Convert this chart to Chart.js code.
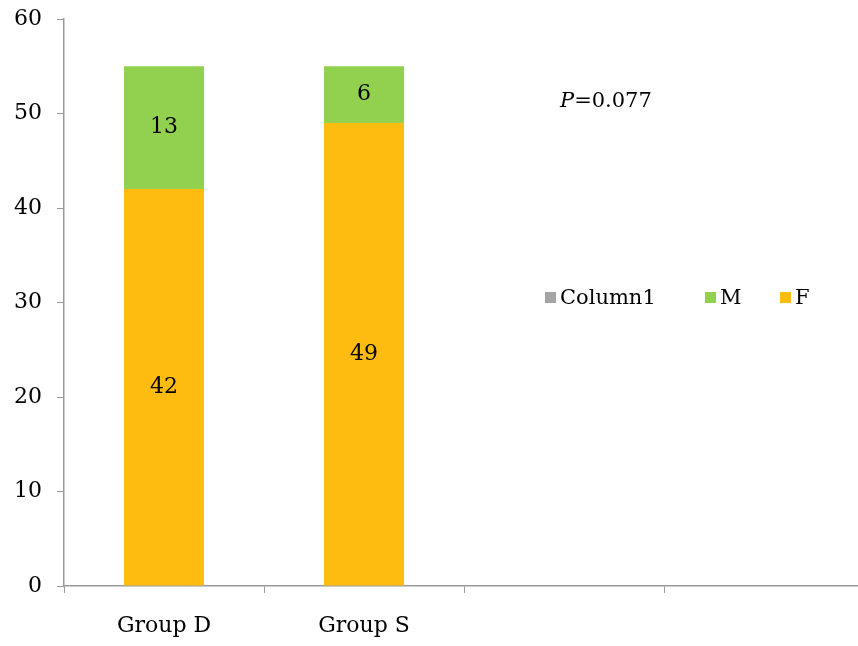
<!DOCTYPE html>
<html>
<head>
<meta charset="utf-8">
<script src="https://cdn.jsdelivr.net/npm/chart.js@4/dist/chart.umd.min.js"></script>
<style>
  html, body { margin: 0; padding: 0; background: #fff; overflow: hidden; }
  #wrap { width: 870px; height: 646px; }
</style>
</head>
<body>
<div id="wrap"><canvas id="c" width="870" height="646"></canvas></div>
<script>
const categories = ["Group D", "Group S", "", ""];
const femaleValues = [42, 49, null, null];
const maleValues = [13, 6, null, null];
const column1Values = [null, null, null, null];
const yTicks = [0, 10, 20, 30, 40, 50, 60];
const pValueText = "=0.077";

const FONT = "'DejaVu Serif', 'Liberation Serif', serif";
const AXIS = "#9a9a9a";

const valueLabels = {
  id: 'valueLabels',
  afterDatasetsDraw(chart) {
    const ctx = chart.ctx;
    ctx.save();
    ctx.font = "22px " + FONT;
    ctx.fillStyle = "#000";
    ctx.textAlign = "center";
    ctx.textBaseline = "middle";
    chart.data.datasets.forEach((ds, di) => {
      const meta = chart.getDatasetMeta(di);
      meta.data.forEach((el, i) => {
        const v = ds.data[i];
        if (v == null) return;
        const { x, y, base } = el.getProps(['x', 'y', 'base'], true);
        ctx.fillText(String(v), x, (y + base) / 2);
      });
    });
    ctx.restore();
  }
};

const legendAndNote = {
  id: 'legendAndNote',
  afterDraw(chart) {
    const ctx = chart.ctx;
    const a = chart.chartArea;
    ctx.save();
    ctx.textBaseline = "alphabetic";
    ctx.textAlign = "left";
    // P value note
    const px = a.left + 496, py = a.top + 88;
    ctx.fillStyle = "#000";
    ctx.font = "italic 21px " + FONT;
    ctx.fillText("P", px, py);
    const pw = ctx.measureText("P").width;
    ctx.font = "21px " + FONT;
    ctx.fillText(pValueText, px + pw, py);
    // legend (reverse order of datasets)
    const items = chart.data.datasets.slice().reverse();
    const xs = [a.left + 481, a.left + 641, a.left + 716];
    const ly = a.top + 284;
    items.forEach((ds, i) => {
      ctx.fillStyle = ds.backgroundColor;
      ctx.fillRect(xs[i], ly - 11, 11, 11);
      ctx.fillStyle = "#000";
      ctx.font = "21px " + FONT;
      ctx.fillText(ds.label, xs[i] + 15, ly + 1);
    });
    ctx.restore();
  }
};

new Chart(document.getElementById('c'), {
  type: 'bar',
  data: {
    labels: categories,
    datasets: [
      { label: 'F', data: femaleValues, backgroundColor: '#FFBC10', barPercentage: 0.4, categoryPercentage: 1.0 },
      { label: 'M', data: maleValues, backgroundColor: '#92D050', barPercentage: 0.4, categoryPercentage: 1.0 },
      { label: 'Column1', data: column1Values, backgroundColor: '#A5A5A5', barPercentage: 0.4, categoryPercentage: 1.0 }
    ]
  },
  options: {
    responsive: false,
    animation: false,
    devicePixelRatio: 1,
    layout: { padding: { top: 19, right: 6, left: 0, bottom: 0 } },
    plugins: { legend: { display: false }, tooltip: { enabled: false } },
    scales: {
      x: {
        stacked: true,
        offset: true,
        grid: { offset: true, drawOnChartArea: false, color: AXIS, tickLength: 7, lineWidth: 1 },
        border: { color: AXIS, width: 1.5 },
        ticks: { color: '#000', font: { family: FONT, size: 22 }, padding: 20, maxRotation: 0 },
        afterFit(s) { s.height = 60; s.paddingLeft = 0; s.paddingRight = 0; }
      },
      y: {
        stacked: true,
        min: 0, max: 60,
        afterBuildTicks(s) { s.ticks = yTicks.map(v => ({ value: v })); },
        grid: { drawOnChartArea: false, color: AXIS, tickLength: 7, lineWidth: 1 },
        border: { color: AXIS, width: 1.5 },
        ticks: { color: '#000', font: { family: FONT, size: 22 }, padding: 15 },
        afterFit(s) { s.width = 64; s.paddingTop = 0; s.paddingBottom = 0; }
      }
    }
  },
  plugins: [valueLabels, legendAndNote]
});
</script>
</body>
</html>
